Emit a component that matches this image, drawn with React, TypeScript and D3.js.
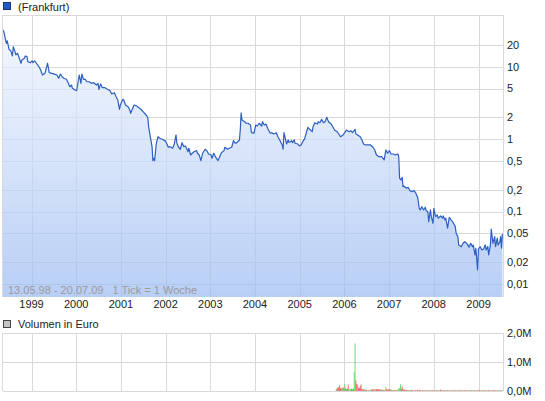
import React from 'react';
import * as d3 from 'd3';

// ---------- data ----------
const startDate = new Date(1998, 4, 13);
const endDate = new Date(2009, 6, 20);

// week index since 13.05.98 (1 Tick = 1 Woche)
const priceWeeks = [
  0, 1, 3, 4, 5, 7, 9, 11, 12, 14, 15, 17, 19, 21, 22, 25, 26, 28, 29, 32,
  34, 35, 37, 39, 42, 44, 46, 49, 52, 54, 57, 61, 63, 65, 67, 69, 71, 74, 76, 78,
  80, 81, 84, 86, 88, 89, 91, 92, 94, 96, 98, 101, 103, 106, 109, 111, 112, 114, 116, 119,
  122, 125, 127, 130, 132, 134, 136, 137, 140, 141, 143, 146, 148, 149, 151, 153, 156, 158, 161, 164,
  167, 169, 170, 172, 174, 175, 176, 177, 179, 181, 183, 186, 189, 191, 193, 195, 198, 200, 202, 203,
  205, 207, 209, 211, 213, 216, 217, 219, 221, 223, 226, 227, 229, 231, 233, 236, 238, 240, 243, 244,
  246, 248, 251, 253, 255, 258, 259, 262, 264, 267, 269, 271, 273, 276, 277, 278, 279, 282, 284, 286,
  289, 290, 293, 295, 297, 299, 302, 303, 305, 307, 309, 312, 314, 316, 319, 321, 323, 326, 327, 328,
  330, 331, 333, 334, 337, 338, 340, 341, 344, 346, 348, 351, 352, 354, 356, 358, 361, 362, 364, 367,
  368, 370, 372, 374, 376, 378, 380, 383, 385, 387, 390, 392, 394, 397, 399, 401, 404, 406, 408, 411,
  412, 414, 417, 419, 421, 423, 426, 429, 432, 434, 436, 439, 442, 445, 447, 449, 451, 453, 456, 458,
  461, 462, 463, 465, 466, 467, 468, 471, 473, 475, 478, 480, 482, 484, 486, 487, 489, 491, 493, 494,
  496, 497, 499, 500, 502, 503, 505, 507, 508, 511, 513, 514, 516, 517, 519, 521, 523, 525, 528, 529,
  531, 532, 535, 537, 539, 542, 544, 546, 548, 549, 551, 552, 554, 555, 557, 559, 561, 563, 564, 566,
  567, 569, 570, 572, 574, 575, 577, 578, 580, 581, 582, 583,
];

const priceValues = [
  32.2, 30.5, 23.4, 21.1, 22.9, 17.4, 16.7, 14.1, 18.9, 16.2, 14.6, 15.4, 13.1, 11.2, 12.4, 13.1, 14.1, 13.8, 11.75, 11.4,
  12.1, 11.4, 12.1, 11.2, 10.0, 9.03, 7.7, 8.13, 11.2, 8.29, 8.13, 7.87, 7.7, 6.94, 7.95, 7.3, 6.94, 6.72, 6.03, 5.31,
  5.6, 5.05, 4.78, 4.67, 6.57, 7.7, 5.91, 7.95, 6.72, 6.72, 6.22, 6.22, 5.91, 6.03, 5.6, 5.91, 4.89, 5.79, 5.14, 5.14,
  4.89, 4.67, 4.21, 4.39, 3.86, 3.48, 2.59, 2.97, 3.56, 3.48, 2.97, 2.81, 2.53, 2.28, 2.59, 2.97, 2.87, 2.76, 2.59, 2.37,
  2.16, 2.01, 1.49, 1.08, 0.789, 0.506, 0.545, 0.506, 0.878, 1.08, 1.03, 0.998, 0.955, 0.878, 0.774, 0.789, 0.75, 0.859, 1.144, 0.878,
  0.774, 0.726, 0.896, 0.789, 0.806, 0.672, 0.75, 0.606, 0.639, 0.672, 0.694, 0.639, 0.606, 0.506, 0.639, 0.726, 0.694, 0.625, 0.606, 0.545,
  0.639, 0.574, 0.506, 0.574, 0.652, 0.694, 0.774, 0.726, 0.75, 0.774, 0.955, 0.878, 0.896, 0.976, 1.341, 2.32, 1.843, 1.745, 1.66, 1.66,
  1.57, 1.23, 1.21, 1.57, 1.52, 1.66, 1.52, 1.745, 1.57, 1.62, 1.415, 1.21, 1.23, 1.18, 1.23, 1.08, 0.976, 0.833, 0.726, 1.23,
  0.976, 0.859, 0.976, 0.896, 0.955, 0.896, 0.976, 0.878, 0.859, 0.806, 0.833, 0.976, 0.998, 1.21, 1.46, 1.37, 1.27, 1.49, 1.69, 1.62,
  1.745, 1.69, 1.88, 1.69, 1.745, 2.01, 1.745, 1.62, 1.49, 1.341, 1.27, 1.18, 1.08, 1.144, 1.23, 1.341, 1.27, 1.31, 1.23, 1.37,
  1.18, 1.144, 1.08, 0.976, 0.859, 0.833, 0.833, 0.833, 0.774, 0.71, 0.606, 0.574, 0.574, 0.517, 0.71, 0.639, 0.694, 0.625, 0.625, 0.606,
  0.625, 0.574, 0.289, 0.2735, 0.298, 0.221, 0.226, 0.21, 0.217, 0.195, 0.188, 0.195, 0.179, 0.158, 0.111, 0.1054, 0.117, 0.1054, 0.115, 0.103,
  0.0998, 0.0726, 0.1054, 0.0852, 0.069, 0.111, 0.0852, 0.0899, 0.081, 0.087, 0.081, 0.087, 0.0767, 0.081, 0.0589, 0.0836, 0.0767, 0.0726, 0.062, 0.0502,
  0.0451, 0.0346, 0.0328, 0.0365, 0.0384, 0.0358, 0.0322, 0.0365, 0.0328, 0.0346, 0.0252, 0.0312, 0.01565, 0.0302, 0.0328, 0.02956, 0.0302, 0.0346, 0.02956, 0.0328,
  0.0252, 0.0346, 0.0571, 0.0365, 0.0451, 0.0328, 0.0429, 0.0346, 0.0384, 0.0451, 0.0312, 0.0491,
];

const yTicks = [20, 10, 5, 2, 1, 0.5, 0.2, 0.1, 0.05, 0.02, 0.01];
const yearTicks = [1999, 2000, 2001, 2002, 2003, 2004, 2005, 2006, 2007, 2008, 2009];

// volume (Mio. Euro) per week, starting at week index volStartWeek
const volStartWeek = 389;
const volumeM = [
  0.07, 0.09, 0.12, 0.14, 0.2, 0.1, 0.1, 0.12, 0.11, 0.12,
  0.23, 0.1, 0.07, 0.08, 0.22, 0.06, 0.08, 0.06, 0.08, 0.07,
  0.08, 0.65, 1.64, 0.37, 0.24, 0.22, 0.12, 0.1, 0.17, 0.23,
  0.08, 0.06, 0.05, 0.06, 0.04, 0.04, 0.03, 0.02, 0.03, 0.02,
  0.03, 0.05, 0.06, 0.06, 0.06, 0.05, 0.06, 0.06, 0.06, 0.06,
  0.06, 0.06, 0.05, 0.06, 0.03, 0.04, 0.03, 0.06, 0.14, 0.07,
  0.05, 0.06, 0.06, 0.06, 0.05, 0.03, 0.03, 0.03, 0.02, 0.03,
  0.03, 0.03, 0.05, 0.08, 0.1, 0.23, 0.08, 0.16, 0.07, 0.06,
  0.04, 0.03, 0.04, 0.03, 0.02, 0.03, 0.04, 0.02, 0.04, 0.02,
  0.02, 0.02, 0.03, 0.02, 0.02, 0.04, 0.02, 0.04,
  0.03, 0.02, 0.02, 0.03, 0.02, 0.02, 0.03, 0.02, 0.02, 0.02,
  0.03, 0.02, 0.02, 0.02, 0.03, 0.02, 0.02, 0.02, 0.02, 0.03,
  0.02, 0.02, 0.02, 0.02, 0.05, 0.03, 0.02, 0.02, 0.03, 0.02,
  0.02, 0.02, 0.03, 0.02, 0.02, 0.02, 0.02, 0.03, 0.02, 0.02,
  0.02, 0.03, 0.02, 0.02, 0.02, 0.02, 0.03, 0.02, 0.02, 0.02,
  0.02, 0.02, 0.03, 0.02, 0.02, 0.02, 0.02, 0.02, 0.03, 0.02,
  0.02, 0.02, 0.02, 0.03, 0.02, 0.02, 0.02, 0.02, 0.02, 0.03,
  0.02, 0.02, 0.02, 0.02, 0.03, 0.02, 0.02, 0.02, 0.02, 0.02,
  0.03, 0.02, 0.02, 0.02, 0.02, 0.02, 0.03, 0.02, 0.02, 0.02,
  0.02, 0.02, 0.03, 0.02, 0.02, 0.02, 0.02,
];
// g = rising week, r = falling week
const volDir =
  'grrrrrgrgr' + 'grgrrgggrg' + 'rggrrgrrrr' + 'rrrgrrrgrr' + 'grrgrrgrrr' +
  'rrrgrrgggr' + 'grrgrrgrrr' + 'grggggrrrr' + 'rrgrrrgrrr' + 'grrrgrrr' +
  'rgrrgrrgrr' + 'grrgrrrgrg' + 'rrgrrrgrrg' + 'rrgrgrrgrr' + 'grrgrrrgrr' +
  'rgrrgrrrgr' + 'rgrrgrgrrr' + 'grrgrrgrrg' + 'rrgrrgrrrg' + 'rrgrrgr';
const volTicks = [2, 1, 0];

// ---------- layout ----------
const W = 545;
const H = 401;
const left = 3;
const right = 503;
const mainTop = 15;
const mainBottom = 297;
const volTop = 333;
const volBottom = 391;
const font = 'Liberation Sans, Arial, Helvetica, sans-serif';
const gridColor = '#d9d9d9';

const fmtComma = (v: number) => String(v).replace('.', ',');

export default function App() {
  const x = d3.scaleTime().domain([startDate, endDate]).range([left, right]);
  const y = d3.scaleLog().domain([0.01, 20]).range([284, 45]);
  const yv = d3.scaleLinear().domain([0, 2]).range([volBottom, volTop]);

  const weekDate = (w: number) => d3.timeDay.offset(startDate, w * 7);
  const data = priceWeeks.map((w, i) => ({ d: weekDate(w), v: priceValues[i] }));

  const line = d3
    .line<{ d: Date; v: number }>()
    .x((p) => x(p.d))
    .y((p) => y(p.v));
  const area = d3
    .area<{ d: Date; v: number }>()
    .x((p) => x(p.d))
    .y0(mainBottom)
    .y1((p) => y(p.v));

  const vols = volumeM.map((v, i) => ({
    d: weekDate(volStartWeek + i),
    v,
    up: volDir[i] === 'g',
  }));
  const barW = x(weekDate(1)) - x(weekDate(0));

  const yearX = (yr: number) => Math.round(x(new Date(yr, 0, 1))) + 0.5;
  const crisp = (v: number) => Math.round(v) + 0.5;

  return (
    <svg
      width={W}
      height={H}
      style={{ position: 'absolute', left: 0, top: 0, background: '#fff' }}
      fontFamily={font}
      fontSize={11}
    >
      <defs>
        <linearGradient id="fillGrad" gradientUnits="userSpaceOnUse" x1={0} y1={mainTop} x2={0} y2={mainBottom}>
          <stop offset="0%" stopColor="#f4f8ff" />
          <stop offset="100%" stopColor="#9abaf1" />
        </linearGradient>
        <clipPath id="mainClip">
          <rect x={left} y={mainTop} width={right - left} height={mainBottom - mainTop} />
        </clipPath>
      </defs>

      {/* legend */}
      <rect x={3.5} y={2.5} width={7} height={7} fill="#2159c4" stroke="#1a3570" />
      <text x={18} y={11} fill="#222">(Frankfurt)</text>

      {/* main grid */}
      <g stroke={gridColor} strokeWidth={1} fill="none">
        <line x1={left - 0.5} x2={right + 0.5} y1={mainTop + 0.5} y2={mainTop + 0.5} />
        <line x1={left - 0.5} x2={left - 0.5} y1={mainTop} y2={mainBottom} />
        <line x1={right + 0.5} x2={right + 0.5} y1={mainTop} y2={mainBottom} />
        {yearTicks.map((yr) => (
          <line key={yr} x1={yearX(yr)} x2={yearX(yr)} y1={mainTop} y2={mainBottom} />
        ))}
        {yTicks.map((t) => (
          <line key={t} x1={left} x2={right} y1={crisp(y(t))} y2={crisp(y(t))} />
        ))}
      </g>

      {/* price area + line */}
      <g clipPath="url(#mainClip)">
        <path d={area(data) || ''} fill="url(#fillGrad)" fillOpacity={0.7} />
        <path d={line(data) || ''} fill="none" stroke="#2c5fc2" strokeWidth={1.2} strokeLinejoin="round" />
      </g>

      {/* range text */}
      <text x={8} y={294} fill="#9a9a9a" style={{ whiteSpace: 'pre' }}>
        {'13.05.98 - 20.07.09   1 Tick = 1 Woche'}
      </text>

      {/* right axis */}
      {yTicks.map((t) => (
        <text key={t} x={507} y={y(t)} dy="0.35em" fill="#222">
          {fmtComma(t)}
        </text>
      ))}

      {/* year labels */}
      {yearTicks.map((yr) => (
        <text key={yr} x={x(new Date(yr, 0, 1))} y={308} textAnchor="middle" fill="#222">
          {yr}
        </text>
      ))}

      {/* volume legend */}
      <rect x={3.5} y={320.5} width={7} height={7} fill="#c4c4c4" stroke="#444" />
      <text x={18} y={328} fill="#222">Volumen in Euro</text>

      {/* volume grid */}
      <g stroke={gridColor} strokeWidth={1} fill="none">
        <line x1={left - 0.5} x2={right + 0.5} y1={volTop + 0.5} y2={volTop + 0.5} />
        <line x1={left - 0.5} x2={left - 0.5} y1={volTop} y2={volBottom} />
        <line x1={right + 0.5} x2={right + 0.5} y1={volTop} y2={volBottom} />
        {yearTicks.map((yr) => (
          <line key={yr} x1={yearX(yr)} x2={yearX(yr)} y1={volTop} y2={volBottom} />
        ))}
        {volTicks.map((t) => (
          <line key={t} x1={left} x2={right} y1={crisp(yv(t))} y2={crisp(yv(t))} />
        ))}
      </g>

      {/* volume bars */}
      <g>
        {vols.map((b, i) => (
          <rect
            key={i}
            x={x(b.d) - barW / 2}
            y={yv(b.v)}
            width={barW}
            height={volBottom - yv(b.v)}
            fill={b.up ? '#5cd65c' : '#e35d5d'}
          />
        ))}
      </g>

      {/* volume axis */}
      {volTicks.map((t) => (
        <text key={t} x={507} y={yv(t)} dy="0.35em" fill="#222">
          {d3.format('.1f')(t).replace('.', ',') + 'M'}
        </text>
      ))}
    </svg>
  );
}
